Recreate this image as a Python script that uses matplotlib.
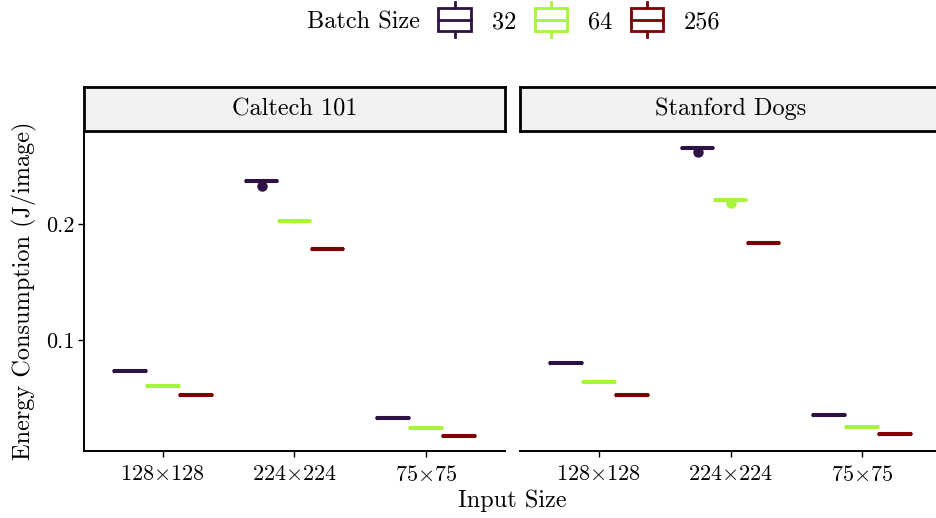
import numpy as np
import matplotlib.pyplot as plt
from matplotlib.patches import Rectangle
from matplotlib.lines import Line2D
from matplotlib.legend_handler import HandlerBase
from matplotlib.offsetbox import HPacker

plt.rcParams['font.family'] = 'cmr10'
plt.rcParams['mathtext.fontset'] = 'cm'
plt.rcParams['axes.formatter.use_mathtext'] = True

# data (J/image)
datasets = ['Caltech 101', 'Stanford Dogs']
input_sizes = [r'128$\times$128', r'224$\times$224', r'75$\times$75']
batch_sizes = ['32', '64', '256']
colors = ['#2E1244', '#A6F53A', '#7E0000']

# medians[dataset][input size][batch]
medians = [
    [[0.0733, 0.0603, 0.0526], [0.2371, 0.2026, 0.1784], [0.0328, 0.0241, 0.0172]],
    [[0.0802, 0.0638, 0.0526], [0.2655, 0.2207, 0.1836], [0.0353, 0.0250, 0.0190]],
]
# outliers (dataset, input size, batch) -> value
outliers = {
    (0, 1, 0): 0.2328,
    (1, 1, 0): 0.2621,
    (1, 1, 1): 0.2181,
}
# lower whisker ends that stick out below the box
low_whiskers = {
    (0, 1, 1): 0.2005,
}

W, H = 937, 518
fig = plt.figure(figsize=(W / 100, H / 100), dpi=100)

panel_left = [84, 520]
pw = 421
top, bottom = 131, 451
strip_top = 87

half = 0.0007
dodge = 0.25
bw = 0.24
fs = 16

for d, name in enumerate(datasets):
    ax = fig.add_axes([panel_left[d] / W, 1 - bottom / H, pw / W, (bottom - top) / H])
    for i in range(len(input_sizes)):
        for b in range(len(batch_sizes)):
            m = medians[d][i][b]
            c = colors[b]
            fl = [outliers[(d, i, b)]] if (d, i, b) in outliers else []
            lo = low_whiskers.get((d, i, b), m - half)
            s = dict(med=m, q1=m - half, q3=m + half,
                     whislo=lo, whishi=m + half, fliers=fl)
            ax.bxp([s], positions=[i + 1 + (b - 1) * dodge], widths=bw, showcaps=False,
                   boxprops=dict(color=c, lw=1.5),
                   medianprops=dict(color=c, lw=2.6, solid_capstyle='round'),
                   whiskerprops=dict(color=c, lw=1),
                   flierprops=dict(marker='o', markerfacecolor=c, markeredgecolor=c,
                                   markersize=6.5))
    ax.set_xlim(0.4, 3.6)
    ax.set_ylim(0.0043, 0.2802)
    ax.set_xticks([1, 2, 3])
    ax.set_xticklabels(input_sizes, fontsize=fs)
    ax.set_yticks([0.1, 0.2])
    ax.set_yticklabels(['0.1', '0.2'], fontsize=fs)
    ax.tick_params(length=4, width=1, direction='out', pad=3)
    ax.tick_params(axis='x', pad=6)
    for sp in ['top', 'right']:
        ax.spines[sp].set_visible(False)
    ax.spines['bottom'].set_linewidth(1.4)
    ax.spines['left'].set_linewidth(1.4)
    if d == 1:
        ax.spines['left'].set_visible(False)
        ax.tick_params(axis='y', left=False, labelleft=False)
    else:
        ax.set_ylabel('Energy Consumption (J/image)', fontsize=17.5, labelpad=6)

    sax = fig.add_axes([panel_left[d] / W, 1 - top / H, pw / W, (top - strip_top) / H])
    sax.set_facecolor('#F2F2F2')
    sax.set_xticks([])
    sax.set_yticks([])
    for sp in sax.spines.values():
        sp.set_linewidth(2)
    sax.text(0.5, 0.5, name, ha='center', va='center', fontsize=17.5,
             transform=sax.transAxes)

fig.text((84 + 941) / 2 / W, 1 - 501 / H, 'Input Size', ha='center', va='center', fontsize=17.5)


class BoxHandler(HandlerBase):
    def create_artists(self, legend, orig_handle, x0, y0, width, height, fontsize, trans):
        c = orig_handle.get_color()
        r = Rectangle((x0, y0 - 0.2 * height), width, 1.4 * height, fill=False,
                      edgecolor=c, lw=2, transform=trans)
        m = Line2D([x0, x0 + width], [y0 + height / 2] * 2, color=c, lw=2, transform=trans)
        w1 = Line2D([x0 + width / 2] * 2, [y0 + 1.2 * height, y0 + 1.55 * height],
                    color=c, lw=2, transform=trans)
        w2 = Line2D([x0 + width / 2] * 2, [y0 - 0.2 * height, y0 - 0.55 * height],
                    color=c, lw=2, transform=trans)
        return [r, m, w1, w2]


handles = [Line2D([], [], color=c) for c in colors]
leg = fig.legend(handles, batch_sizes, handler_map={Line2D: BoxHandler()},
                 loc='center', bbox_to_anchor=(514 / W, 1 - 22 / H), ncol=3,
                 frameon=False, fontsize=17.5, title='Batch Size', title_fontsize=17.5,
                 handlelength=1.35, handletextpad=0.85, columnspacing=0.75)
title_box = leg._legend_title_box
handle_box = leg._legend_handle_box
leg._legend_box._children = [HPacker(pad=0, sep=13, children=[title_box, handle_box], align='center')]

fig.savefig('out.png', dpi=100)
